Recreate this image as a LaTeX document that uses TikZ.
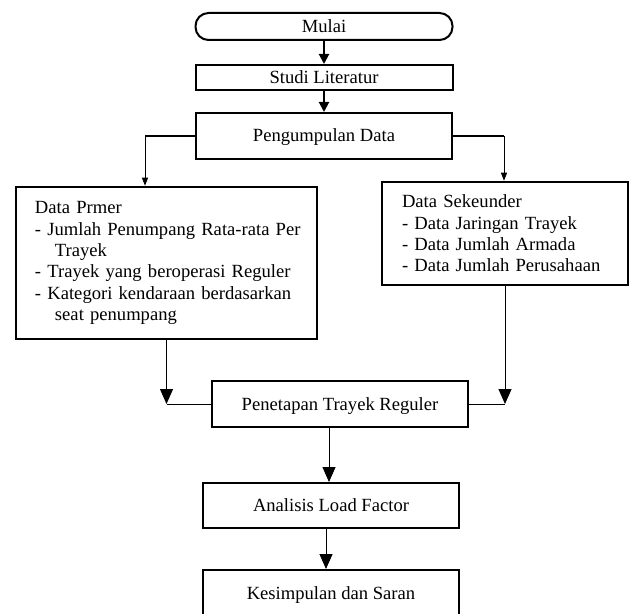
\documentclass[tikz,border=0pt]{standalone}
\usepackage{fontspec}
\setmainfont{Liberation Serif}
\usetikzlibrary{arrows.meta}
\begin{document}
\begin{tikzpicture}[x=1bp,y=-1bp,
  font=\fontsize{18.6bp}{21.3bp}\selectfont,
  box/.style={draw, line width=2bp, minimum width=256bp, inner sep=0pt, text height=13bp, text depth=1bp},
  databox/.style={draw, line width=2.5bp, align=left, inner ysep=0pt},
  smallarrow/.style={-{Triangle[width=6bp,length=8bp]}, line width=1bp},
  midarrow/.style={-{Triangle[width=10bp,length=10bp]}, line width=2bp},
  bigarrow/.style={-{Triangle[width=13bp,length=15bp]}, line width=1bp},
  thickline/.style={line width=2bp},
  thinline/.style={line width=1bp}]
\useasboundingbox (0,0) rectangle (632,614);

\node[box, rounded corners=13bp, minimum width=257bp, minimum height=27bp] (mulai) at (324,26.5) {Mulai};
\node[box, minimum width=257bp, minimum height=25bp] (studi) at (324,77.5) {Studi Literatur};
\node[box, minimum height=46bp] (peng) at (324,136) {Pengumpulan Data};
\node[databox, text width=263bp, inner xsep=19bp, minimum height=152bp] (primer) at (166.5,263)
  {\mbox{Data Prmer}\\\mbox{- Jumlah Penumpang Rata-rata Per}\\\mbox{\hspace*{20bp}Trayek}\\\mbox{- Trayek yang beroperasi Reguler}\\\mbox{- Kategori kendaraan berdasarkan}\\\mbox{\hspace*{20bp}seat penumpang}};
\node[databox, text width=206bp, inner xsep=20bp, minimum height=103bp] (sek) at (505,233.5)
  {Data Sekeunder\\- Data Jaringan Trayek\\- Data Jumlah Armada\\- Data Jumlah Perusahaan};
\node[box, minimum height=46bp] (pen) at (340,404) {Penetapan Trayek Reguler};
\node[box, minimum height=45bp] (anal) at (331,505.5) {Analisis Load Factor};
\node[box, minimum height=46bp] (kes) at (331,593) {Kesimpulan dan Saran};

\draw[midarrow] (mulai) -- (studi);
\draw[midarrow] (studi) -- (peng);

\coordinate (lc) at (145,136);
\coordinate (rc) at (504,136);
\draw[thickline] (peng.west) -- (lc);
\draw[smallarrow] (lc) -- (lc |- primer.north);
\draw[thickline] (peng.east) -- (rc);
\draw[smallarrow] (rc) -- (rc |- sek.north);

\coordinate (lj) at (primer.south |- pen.west);
\coordinate (rj) at (sek.south |- pen.east);
\draw[bigarrow] (primer.south) -- (lj);
\draw[thinline] (lj) -- (pen.west);
\draw[bigarrow] (sek.south) -- (rj);
\draw[thinline] (pen.east) -- (rj);

\coordinate (ax) at (329,0);
\coordinate (bx) at (326,0);
\draw[bigarrow] (pen.south -| ax) -- (anal.north -| ax);
\draw[bigarrow] (anal.south -| bx) -- (kes.north -| bx);
\end{tikzpicture}
\end{document}
